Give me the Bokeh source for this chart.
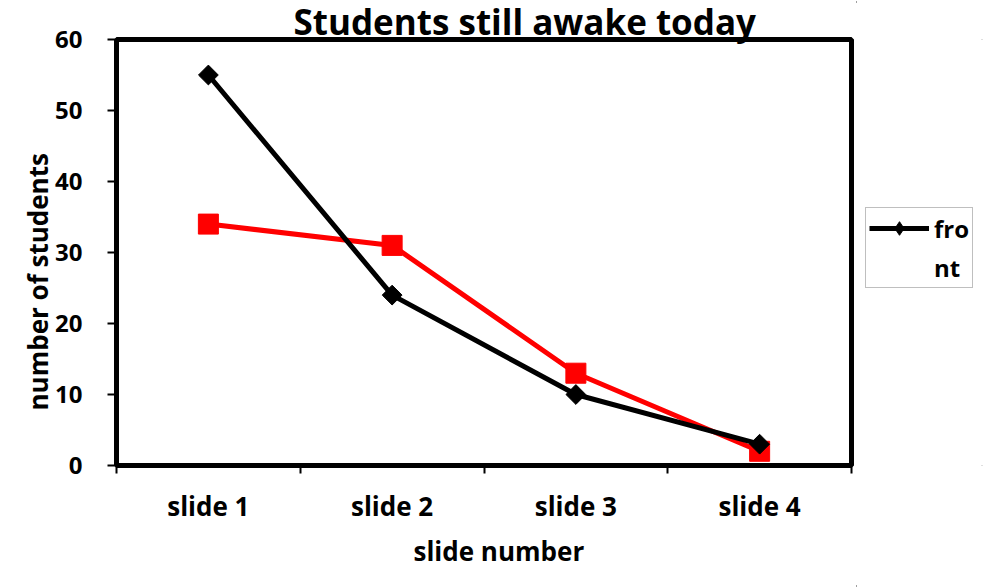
import math
from bokeh.plotting import figure
from bokeh.models import Range1d, FixedTicker, Legend, LegendItem, Title
from bokeh.layouts import row
from bokeh.embed import file_html
from bokeh.resources import INLINE

slides = ["slide 1", "slide 2", "slide 3", "slide 4"]
front = [55, 24, 10, 3]
back = [34, 31, 13, 2]
y_ticks = [0, 10, 20, 30, 40, 50, 60]
title_text = "Students still awake today"
x_title = "slide number"
y_title = "number of students"
legend_lines = ["fro", "nt"]

FONT = "Open Sans"

xs = [i + 0.5 for i in range(len(slides))]

p = figure(width=856, height=588, output_backend="svg", toolbar_location=None,
           x_range=Range1d(0, len(slides)), y_range=Range1d(0, 60),
           min_border_left=116, min_border_right=5, min_border_top=37, min_border_bottom=123)
p.grid.visible = False
p.outline_line_color = "black"
p.outline_line_width = 5
p.background_fill_color = "white"
p.border_fill_color = "white"

p.title.text = title_text
p.title.text_font = FONT
p.title.text_font_style = "bold"
p.title.text_font_size = "35px"
p.title.text_color = "black"
p.title.align = "left"
p.title.offset = 177
p.title.standoff = -10
p.title.vertical_align = "bottom"

# x axis: ticks at category boundaries, labels at centres
p.xaxis.ticker = FixedTicker(ticks=xs, minor_ticks=list(range(len(slides) + 1)))
p.xaxis.major_label_overrides = {x: s for x, s in zip(xs, slides)}
p.xaxis.major_tick_out = 0
p.xaxis.major_tick_in = 0
p.xaxis.minor_tick_out = 8
p.xaxis.minor_tick_in = 0
p.xaxis.minor_tick_line_width = 2
p.xaxis.minor_tick_line_color = "black"
p.xaxis.major_label_standoff = 14
p.xaxis.major_label_text_font_size = "26px"

p.yaxis.ticker = FixedTicker(ticks=y_ticks)
p.yaxis.minor_tick_line_color = None
p.yaxis.major_tick_out = 9
p.yaxis.major_tick_in = 0
p.yaxis.major_tick_line_width = 2
p.yaxis.major_label_standoff = 25
p.yaxis.major_label_text_font_size = "24px"

for ax in (p.xaxis[0], p.yaxis[0]):
    ax.axis_line_width = 5
    ax.axis_line_color = "black"
    ax.major_tick_line_color = "black"
    ax.major_label_text_font = FONT
    ax.major_label_text_font_style = "bold"
    ax.major_label_text_color = "black"

# axis titles (placed off-centre, as in the original)
x_axis_title = Title(text=x_title, text_font=FONT, text_font_style="bold", text_font_size="26px",
                     text_color="black", align="left", offset=297, standoff=12,
                     vertical_align="top")
p.add_layout(x_axis_title, "below")
y_axis_title = Title(text=y_title, text_font=FONT, text_font_style="bold", text_font_size="26px",
                     text_color="black", align="left", offset=55, standoff=-6,
                     vertical_align="bottom")
p.add_layout(y_axis_title, "left")

p.line(xs, back, line_color="#ff0000", line_width=5)
p.scatter(xs, back, marker="square", size=20, fill_color="#ff0000", line_color="#ff0000")
p.line(xs, front, line_color="black", line_width=5)
p.scatter(xs, front, marker="square", angle=math.pi / 4, size=14,
          fill_color="black", line_color="black")

# legend panel (the original legend only shows the first series, its label wrapped)
lg = figure(width=128, height=588, output_backend="svg", toolbar_location=None,
            x_range=Range1d(0, 1), y_range=Range1d(-2, -1),
            x_axis_location=None, y_axis_location=None, min_border=0)
lg.grid.visible = False
lg.outline_line_color = None
lg.background_fill_color = "white"
lg.border_fill_color = "white"
# same series, out of this panel's view: only its legend sample is seen
lg_line = lg.line(xs, front, line_color="black", line_width=5)
lg_pts = lg.scatter(xs, front, marker="diamond", size=18, fill_color="black", line_color="black")

legend = Legend(items=[LegendItem(label=legend_lines[0], renderers=[lg_line, lg_pts]),
                       LegendItem(label=legend_lines[1], renderers=[])],
                label_text_font=FONT, label_text_font_style="bold", label_text_font_size="24px",
                label_text_color="black",
                border_line_color="#7f7f7f", border_line_width=1, glyph_width=60, glyph_height=34,
                label_height=28, spacing=5, location=(9, 177), padding=3, margin=0,
                label_standoff=5, background_fill_color="white")
lg.add_layout(legend)

layout = row(p, lg)
layout.spacing = 0
layout.styles = {"outline": "2px solid #7f7f7f", "outline-offset": "-3px"}

open("out.html", "w").write(file_html(layout, INLINE))
